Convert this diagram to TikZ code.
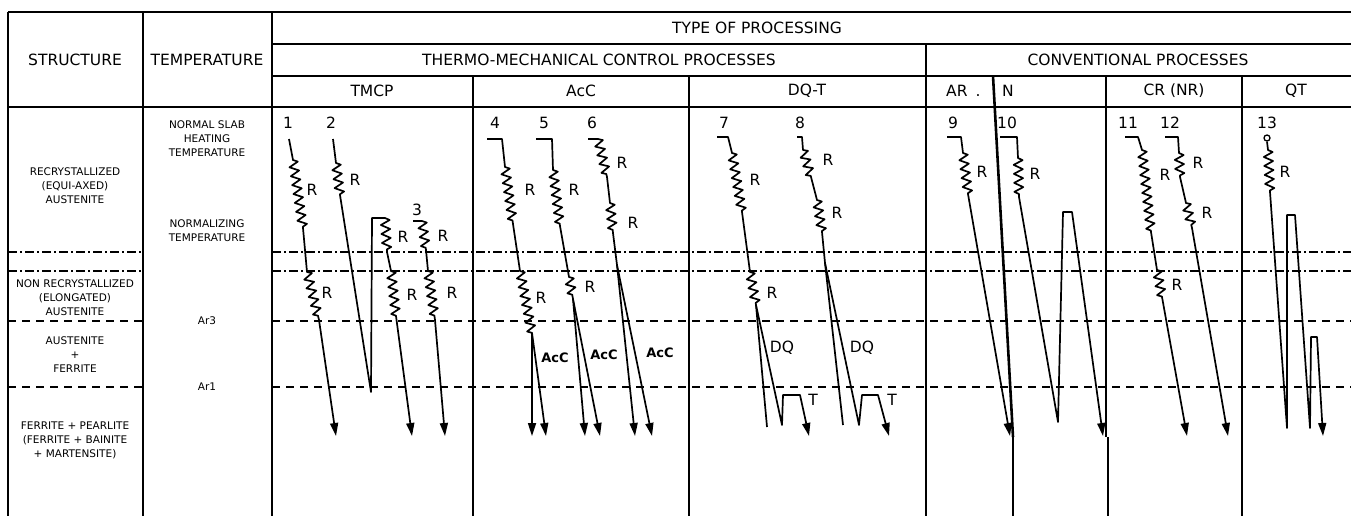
\documentclass[tikz,border=0pt]{standalone}
\usepackage{fontspec}
\setmainfont{DejaVu Sans}
\usetikzlibrary{decorations.pathmorphing,arrows.meta}
\begin{document}
\begin{tikzpicture}[x=1pt,y=-1pt,
  tline/.style={line width=1.8pt},
  dashline/.style={line width=1.8pt, dash pattern=on 8pt off 6pt},
  dotline/.style={line width=1.6pt, dash pattern=on 9pt off 3pt on 2pt off 3pt},
  proc/.style={line width=1.7pt, line join=round},
  arr/.style={-{Triangle[length=13pt,width=8pt]}},
  zz/.style={decoration={zigzag,segment length=9pt,amplitude=4.5pt}},
  hdr/.style={font=\fontsize{15.5}{17}\selectfont, inner sep=0pt},
  sm/.style={font=\fontsize{10.5}{14}\selectfont, align=center, inner sep=0pt},
  lbl/.style={font=\fontsize{15.5}{17}\selectfont, inner sep=0pt},
  acc/.style={font=\bfseries\fontsize{13}{15}\selectfont, inner sep=0pt},
]
\useasboundingbox (0,0) rectangle (1351,516);
% table frame
\draw[tline] (8,12) -- (1351,12);
\draw[tline] (272,44) -- (1351,44);
\draw[tline] (272,76) -- (1351,76);
\draw[tline] (8,107) -- (1351,107);
\draw[tline] (8,12) -- (8,516);
\draw[tline] (143,12) -- (143,516);
\draw[tline] (272,12) -- (272,516);
\draw[tline] (926,44) -- (926,516);
\draw[tline] (473,76) -- (473,516);
\draw[tline] (689,76) -- (689,516);
\draw[tline] (1242,76) -- (1242,516);
\draw[line width=2.6pt] (993,76) -- (1013,437);
\draw[line width=1.4pt] (1013,437) -- (1013,516);
\draw[line width=2.6pt] (1106,76) -- (1106,437);
\draw[line width=1.4pt] (1108,437) -- (1108,516);
% temperature levels
\foreach \yy in {252,271} {
  \draw[dotline] (8,\yy) -- (143,\yy);
  \draw[dotline] (272,\yy) -- (1351,\yy);
}
\foreach \yy in {321,387} {
  \draw[dashline] (8,\yy) -- (143,\yy);
  \draw[dashline] (272,\yy) -- (1351,\yy);
}
% headers
\node[hdr] (hs) at (75,60) {STRUCTURE};
\node[hdr] (ht) at (207,60) {TEMPERATURE};
\node[hdr] (htp) at (757,28) {TYPE OF PROCESSING};
\node[hdr] (htm) at (599,60) {THERMO-MECHANICAL CONTROL PROCESSES};
\node[hdr] (hcp) at (1138,60) {CONVENTIONAL PROCESSES};
\node[hdr] (h1) at (372,91) {TMCP};
\node[hdr] (h2) at (581,91) {AcC};
\node[hdr] (h3) at (807,91) {DQ-T};
\node[hdr,anchor=west] (h4) at (946,91) {AR\hspace{8pt}.};
\node[hdr,anchor=west] (h5) at (1002,91) {N};
\node[hdr] (h6) at (1174,91) {CR (NR)};
\node[hdr] (h7) at (1296,91) {QT};
% structure column
\node[sm] (s1) at (75,186) {RECRYSTALLIZED\\(EQUI-AXED)\\AUSTENITE};
\node[sm] (s2) at (75,297.5) {NON RECRYSTALLIZED\\(ELONGATED)\\AUSTENITE};
\node[sm] (s3) at (75,355) {AUSTENITE\\+\\FERRITE};
\node[sm] (s4) at (75,440) {FERRITE + PEARLITE\\(FERRITE + BAINITE\\+ MARTENSITE)};
% temperature column
\node[sm] (t1) at (207,139) {NORMAL SLAB\\HEATING\\TEMPERATURE};
\node[sm] (t2) at (207,230.5) {NORMALIZING\\TEMPERATURE};
\node[sm] (t3) at (207,321) {Ar3};
\node[sm] (t4) at (207,387) {Ar1};
% process numbers
\node[lbl] (n1) at (288,123) {1};
\node[lbl] (n2) at (331,123) {2};
\node[lbl] (n3) at (417,210) {3};
\node[lbl] (n4) at (495,123) {4};
\node[lbl] (n5) at (544,123) {5};
\node[lbl] (n6) at (592,123) {6};
\node[lbl] (n7) at (724,123) {7};
\node[lbl] (n8) at (800,123) {8};
\node[lbl] (n9) at (953,123) {9};
\node[lbl] (n10) at (1007,123) {10};
\node[lbl] (n11) at (1128,123) {11};
\node[lbl] (n12) at (1170,123) {12};
\node[lbl] (n13) at (1267,123) {13};
% R labels
\foreach \px/\py [count=\i] in {312/190,327/293,355/180,403/237,412/295,443/236,452/293,
  530/190,541/298,574/190,590/287,622/163,633/223,755/180,772/293,828/160,837/213,
  982/172,1035/174,1165/175,1177/285,1198/163,1207/213,1285/172}
  \node[lbl] (r\i) at (\px,\py) {R};
\node[acc] (a1) at (555,358) {AcC};
\node[acc] (a2) at (604,355) {AcC};
\node[acc] (a3) at (660,353) {AcC};
\node[lbl] (d1) at (782,348) {DQ};
\node[lbl] (d2) at (862,348) {DQ};
\node[lbl] (tt1) at (813,400) {T};
\node[lbl] (tt2) at (892,400) {T};
% process 1
\draw[proc,arr] (289,139) -- (293,160) decorate[zz]{-- (303,228)} -- (307,272) decorate[zz]{-- (319,320)} -- (336,436);
% process 2
\draw[proc,arr] (333,139) -- (336,163) decorate[zz]{-- (340,195)} -- (371,392) -- (372,218) -- (385,218)
  decorate[zz]{-- (387,252)} -- (391,271) decorate[zz]{-- (396,316)} -- (412,436);
% process 3
\draw[proc,arr] (413,221) -- (422,221) decorate[zz]{-- (426,250)} -- (428,271) decorate[zz]{-- (435,320)} -- (445,436);
% process 4
\coordinate (p4) at (532,333);
\draw[proc] (487,139) -- (502,139) -- (505,167) decorate[zz]{-- (513,224)} -- (520,271) decorate[zz]{-- (p4)};
\draw[proc,arr] (p4) -- (532,436);
\draw[proc,arr] (p4) -- (546,436);
% process 5
\coordinate (p5) at (573,299);
\draw[proc] (536,139) -- (552,139) -- (553,170) decorate[zz]{-- (560,226)} -- (569,277) decorate[zz]{-- (p5)};
\draw[proc,arr] (p5) -- (585,436);
\draw[proc,arr] (p5) -- (600,436);
% process 6
\coordinate (p6) at (617,265);
\draw[proc] (588,139) -- (598,139) decorate[zz]{-- (607,177)} -- (610,203) decorate[zz]{-- (613,233)} -- (p6);
\draw[proc,arr] (p6) -- (635,436);
\draw[proc,arr] (p6) -- (652,436);
% process 7
\coordinate (p7) at (756,305);
\draw[proc] (717,137) -- (728,137) -- (732,153) decorate[zz]{-- (742,212)} -- (750,272) decorate[zz]{-- (p7)};
\draw[proc] (p7) -- (767,427);
\draw[proc,arr] (p7) -- (782,425) -- (783,395) -- (800,395) -- (809,436);
% process 8
\coordinate (p8) at (825,263);
\draw[proc] (797,137) -- (802,137) -- (803,150) decorate[zz]{-- (811,177)} -- (817,200) decorate[zz]{-- (822,232)} -- (p8);
\draw[proc] (p8) -- (843,425);
\draw[proc,arr] (p8) -- (859,425) -- (862,395) -- (878,395) -- (889,436);
% process 9
\draw[proc,arr] (947,137) -- (961,137) -- (963,153) decorate[zz]{-- (968,194)} -- (1010,436);
% process 10
\draw[proc,arr] (1000,137) -- (1017,137) -- (1018,158) decorate[zz]{-- (1019,197)} -- (1058,422) -- (1063,212) -- (1072,212) -- (1103,436);
% process 11
\draw[proc,arr] (1125,137) -- (1138,137) -- (1142,150) decorate[zz]{-- (1151,232)} -- (1157,270) decorate[zz]{-- (1162,297)} -- (1187,436);
% process 12
\draw[proc,arr] (1165,137) -- (1178,137) -- (1179,153) decorate[zz]{-- (1180,177)} -- (1186,203) decorate[zz]{-- (1192,228)} -- (1228,436);
% process 13
\node[draw,circle,line width=1.3pt,inner sep=0pt,minimum size=6pt] (c13) at (1267,138) {};
\draw[proc,arr] (c13.south) -- (1268,150) decorate[zz]{-- (1270,192)} -- (1287,428) -- (1287,215) -- (1295,215) -- (1310,428) -- (1311,337) -- (1317,337) -- (1323,436);
\end{tikzpicture}
\end{document}
